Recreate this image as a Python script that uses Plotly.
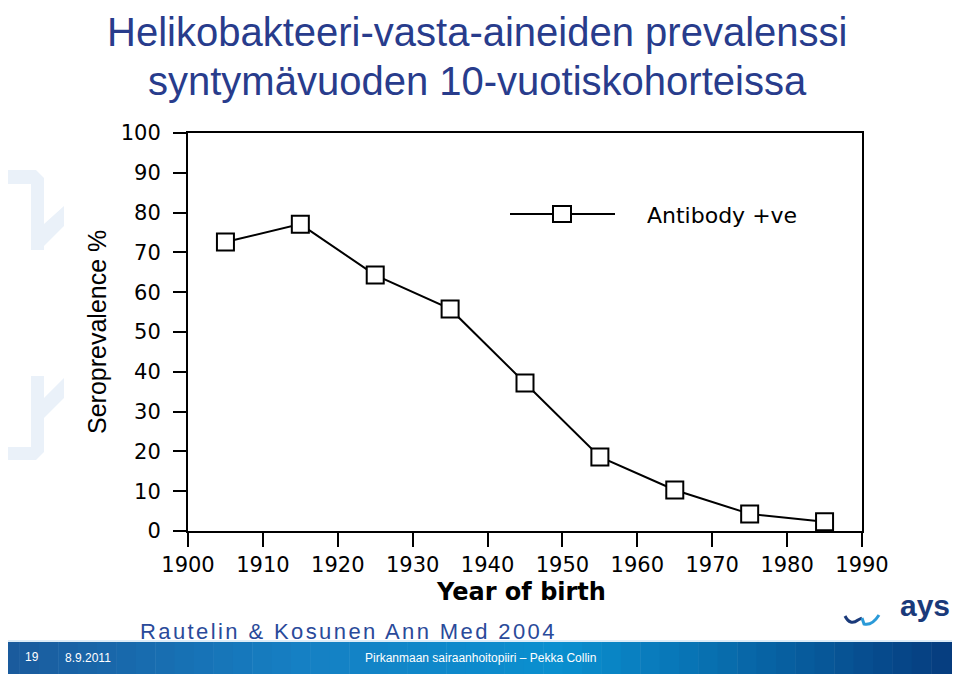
import plotly.graph_objects as go

# Year-of-birth cohorts (midpoints) and H. pylori antibody prevalence, %
birth_year = [1905, 1915, 1925, 1935, 1945, 1955, 1965, 1975, 1985]
seroprevalence = [72.6, 77.1, 64.3, 55.8, 37.2, 18.6, 10.3, 4.3, 2.3]

x_ticks = [1900, 1910, 1920, 1930, 1940, 1950, 1960, 1970, 1980, 1990]
y_ticks = [0, 10, 20, 30, 40, 50, 60, 70, 80, 90, 100]

# page body has an 8px margin, so the figure is drawn 8px smaller
OFF = 8
W, H = 960, 674
L, R, T, B = 188, 98, 133, 143
NAVY = '#283c8c'
FONT = 'Liberation Sans, Arial, sans-serif'


def px(x):
    return (x - L) / (W - L - R)


def py(y):
    return (H - B - y) / (H - T - B)


fig = go.Figure()
fig.add_trace(go.Scatter(
    x=birth_year, y=seroprevalence, mode='lines+markers',
    line=dict(color='black', width=2),
    marker=dict(symbol='square', size=17, color='white',
                line=dict(color='black', width=2)),
    showlegend=False, cliponaxis=False))

tick_font = dict(family='DejaVu Sans', size=21, color='black')
fig.update_xaxes(range=[1900, 1990], tickvals=x_ticks, ticks='outside', ticklen=14,
                 tickwidth=2, tickcolor='black', showline=True, linecolor='black',
                 linewidth=2, mirror=True, showgrid=False, zeroline=False,
                 tickfont=tick_font)
fig.update_yaxes(range=[0, 100], tickvals=y_ticks, ticks='outside', ticklen=13,
                 tickwidth=2, tickcolor='black', showline=True, linecolor='black',
                 linewidth=2, mirror=True, showgrid=False, zeroline=False,
                 tickfont=tick_font, ticklabelstandoff=8)

shapes = []
# manual legend sample
shapes.append(dict(type='line', xref='paper', yref='paper', x0=px(510), x1=px(615),
                   y0=py(214), y1=py(214), line=dict(color='black', width=2)))
shapes.append(dict(type='rect', xref='paper', yref='paper', x0=px(553), x1=px(571),
                   y0=py(222), y1=py(206), fillcolor='white',
                   line=dict(color='black', width=2)))

# footer band, stepped gradient
stops = [(0, (27, 90, 156)), (300, (22, 128, 196)), (560, (10, 144, 208)), (970, (6, 56, 122))]
n = 50
for i in range(n):
    x0 = 970 * i / n
    x1 = 970 * (i + 1) / n
    xm = (x0 + x1) / 2
    for (a, ca), (b, cb) in zip(stops[:-1], stops[1:]):
        if a <= xm <= b:
            t = (xm - a) / (b - a)
            c = tuple(int(ca[k] + (cb[k] - ca[k]) * t) for k in range(3))
            break
    shapes.append(dict(type='rect', xref='paper', yref='paper', x0=px(x0), x1=px(x1 + 0.5),
                       y0=py(H + 4), y1=py(642), fillcolor='rgb(%d,%d,%d)' % c,
                       line=dict(width=0), layer='above'))
shapes.append(dict(type='line', xref='paper', yref='paper', x0=px(0), x1=px(970),
                   y0=py(641), y1=py(641), line=dict(color='#bcd9ef', width=1)))


def poly(pts):
    return 'M ' + ' L '.join('%f,%f' % (px(a), py(b)) for a, b in pts) + ' Z'


# faint watermark brackets on the left
wm = '#eaf1f9'
shapes.append(dict(type='path', xref='paper', yref='paper', layer='below',
                   fillcolor=wm, line=dict(width=0),
                   path=poly([(0, 170), (36, 170), (44, 178), (44, 224), (64, 206),
                              (64, 226), (44, 246), (44, 250), (31, 250), (31, 184),
                              (0, 184)])))
shapes.append(dict(type='path', xref='paper', yref='paper', layer='below',
                   fillcolor=wm, line=dict(width=0),
                   path=poly([(31, 376), (44, 376), (44, 398), (64, 378), (64, 398),
                              (44, 418), (44, 452), (36, 460), (0, 460), (0, 447),
                              (31, 447)])))
# wave mark of the logo
shapes.append(dict(type='path', xref='paper', yref='paper',
                   path='M %f,%f Q %f,%f %f,%f L %f,%f' % (px(845), py(616), px(850), py(626),
                                                            px(858), py(620), px(862), py(618)),
                   line=dict(color='#1a3a7a', width=3)))
shapes.append(dict(type='path', xref='paper', yref='paper',
                   path='M %f,%f L %f,%f Q %f,%f %f,%f' % (px(862), py(618), px(864), py(624),
                                                            px(872), py(626), px(879), py(615)),
                   line=dict(color='#2a9ad8', width=3)))

annotations = [
    dict(text='Helikobakteeri-vasta-aineiden prevalenssi', x=px(477), y=py(32),
         font=dict(family=FONT, size=40, color=NAVY)),
    dict(text='syntymävuoden 10-vuotiskohorteissa', x=px(477), y=py(81),
         font=dict(family=FONT, size=40, color=NAVY)),
    dict(text='Antibody +ve', x=px(645), y=py(215), xanchor='left',
         font=dict(family='DejaVu Sans', size=22, color='black')),
    dict(text='<b>Year of birth</b>', x=px(521), y=py(592),
         font=dict(family='DejaVu Sans', size=24, color='black')),
    dict(text='Seroprevalence %', x=px(97), y=py(332), textangle=-90,
         font=dict(family=FONT, size=25, color='black')),
    dict(text='<span style="letter-spacing:2.4px">Rautelin &amp; Kosunen Ann Med 2004</span>',
         x=px(138), y=py(631), xanchor='left',
         font=dict(family=FONT, size=22, color='#2a4a9a')),
    dict(text='<b>ays</b>', x=px(925), y=py(605),
         font=dict(family=FONT, size=30, color='#1a3a7a')),
    dict(text='19', x=px(32), y=py(657),
         font=dict(family=FONT, size=12, color='white')),
    dict(text='8.9.2011', x=px(88), y=py(658),
         font=dict(family=FONT, size=12, color='white')),
    dict(text='Pirkanmaan sairaanhoitopiiri – Pekka Collin', x=px(480), y=py(658),
         font=dict(family=FONT, size=12, color='white')),
]
for a in annotations:
    a.update(xref='paper', yref='paper', showarrow=False)
    a.setdefault('xanchor', 'center')
    a.setdefault('yanchor', 'middle')

fig.update_layout(width=W - OFF, height=H - OFF,
                  margin=dict(l=L - OFF, r=R, t=T - OFF, b=B),
                  paper_bgcolor='white', plot_bgcolor='white',
                  shapes=shapes, annotations=annotations)

fig.write_html('out.html')
